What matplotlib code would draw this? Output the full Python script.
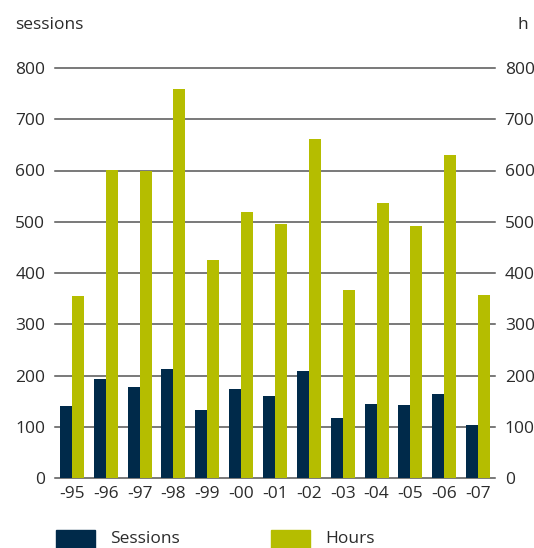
import matplotlib
matplotlib.use("Agg")
import matplotlib.pyplot as plt
import numpy as np
from matplotlib.patches import Rectangle

years = ["-95", "-96", "-97", "-98", "-99", "-00", "-01", "-02", "-03", "-04", "-05", "-06", "-07"]
sessions = [140, 194, 178, 213, 133, 174, 160, 209, 118, 145, 143, 163, 104]
hours = [356, 601, 600, 760, 426, 520, 496, 662, 367, 537, 492, 631, 358]
yticks = [0, 100, 200, 300, 400, 500, 600, 700, 800]

navy = "#002A4A"
olive = "#B5BD00"
txt = "#2b2b2b"
plt.rcParams['font.family'] = ['Open Sans', 'DejaVu Sans']

W, H = 534, 548
fig = plt.figure(figsize=(W/100, H/100), dpi=100)
ax = fig.add_axes([55/W, 1-478/H, 440/W, 410/H])
x = np.arange(len(years))
bw = 0.355
ax.bar(x - bw/2, sessions, width=bw, color=navy, zorder=3)
ax.bar(x + bw/2, hours, width=bw, color=olive, zorder=3)
ax.set_xlim(-0.5, len(years) - 0.5)
ax.set_ylim(0, 800)
for s in ax.spines.values():
    s.set_visible(False)
for t in yticks:
    ax.axhline(t, color="#555555", lw=1.1, zorder=2, clip_on=False)
ax.set_yticks(yticks)
ax.set_yticklabels([str(t) for t in yticks], fontsize=12.5, color=txt)
ax.tick_params(axis='y', length=0, pad=7)
ax.set_xticks(x)
ax.set_xticklabels(years, fontsize=12.5, color=txt)
ax.tick_params(axis='x', length=0, pad=6)
ax2 = ax.twinx()
ax2.set_ylim(0, 800)
ax2.set_yticks(yticks)
ax2.set_yticklabels([str(t) for t in yticks], fontsize=12.5, color=txt)
ax2.tick_params(axis='y', length=0, pad=7)
for s in ax2.spines.values():
    s.set_visible(False)

fig.text(15/W, 1-25/H, "sessions", fontsize=12.5, color=txt, va='center', ha='left')
fig.text(528/W, 1-25/H, "h", fontsize=12.5, color=txt, va='center', ha='right')

fig.patches.append(Rectangle((56/W, 1-548/H), 39/W, 18/H, transform=fig.transFigure, color=navy))
fig.text(110/W, 1-539/H, "Sessions", fontsize=12.5, color=txt, va='center', ha='left')
fig.patches.append(Rectangle((271/W, 1-548/H), 39/W, 18/H, transform=fig.transFigure, color=olive))
fig.text(325/W, 1-539/H, "Hours", fontsize=12.5, color=txt, va='center', ha='left')

fig.savefig("out.png", dpi=100)
